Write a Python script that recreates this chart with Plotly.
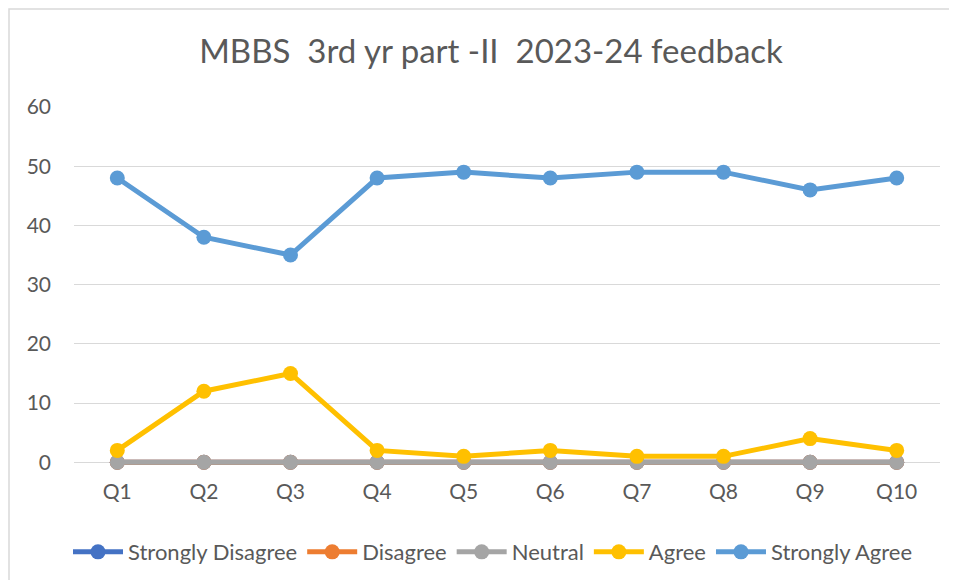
import plotly.graph_objects as go

categories = ["Q1", "Q2", "Q3", "Q4", "Q5", "Q6", "Q7", "Q8", "Q9", "Q10"]
strongly_disagree = [0, 0, 0, 0, 0, 0, 0, 0, 0, 0]
disagree = [0, 0, 0, 0, 0, 0, 0, 0, 0, 0]
neutral = [0, 0, 0, 0, 0, 0, 0, 0, 0, 0]
agree = [2, 12, 15, 2, 1, 2, 1, 1, 4, 2]
strongly_agree = [48, 38, 35, 48, 49, 48, 49, 49, 46, 48]
y_ticks = [0, 10, 20, 30, 40, 50, 60]

series = [
    ("Strongly Disagree", strongly_disagree, "#4472C4"),
    ("Disagree", disagree, "#ED7D31"),
    ("Neutral", neutral, "#A5A5A5"),
    ("Agree", agree, "#FFC000"),
    ("Strongly Agree", strongly_agree, "#5B9BD5"),
]

fig = go.Figure()
for name, vals, col in series:
    fig.add_trace(go.Scatter(
        x=categories, y=vals, name=name, mode="lines+markers",
        line=dict(color=col, width=5),
        marker=dict(color=col, size=15),
        cliponaxis=False,
    ))

# page body has an 8px margin; work in figure coordinates
OFF = 8
W, H = 957 - OFF, 580 - OFF
plot_left, plot_right = 74 - OFF, 940 - OFF
y60, y0 = 107 - OFF, 462 - OFF
ppu = (y0 - y60) / 60.0
ylow = -0.8
L = plot_left
R = W - plot_right
T = y60
ph = (y0 - y60) + (-ylow) * ppu
B = H - T - ph
pw = plot_right - plot_left

fig.update_layout(
    width=W, height=H,
    margin=dict(l=L, r=R, t=T, b=B, autoexpand=False),
    paper_bgcolor="white", plot_bgcolor="white",
    font=dict(family="Lato, Open Sans, sans-serif", color="#595959", size=20),
    title=dict(text="MBBS  3rd yr part -II  2023-24 feedback",
               x=(491 - OFF) / W, xanchor="center", y=1 - (51 - OFF) / H, yanchor="middle",
               font=dict(size=33, color="#595959")),
    showlegend=True,
    legend=dict(orientation="h", x=(493 - OFF - L) / pw, xanchor="center",
                y=(y0 - (547 - OFF)) / ph + 0, yanchor="middle",
                font=dict(size=22, color="#595959"), itemwidth=50,
                traceorder="normal"),
    xaxis=dict(type="category", range=[-0.5, 9.5], showgrid=False,
               showline=False, ticks="", zeroline=False, ticklabelstandoff=10,
               tickfont=dict(size=21, color="#595959")),
    yaxis=dict(range=[ylow, 60], tickvals=y_ticks, showgrid=True,
               gridcolor="#D9D9D9", gridwidth=1, zeroline=False,
               showline=False, ticks="", ticklabelstandoff=22,
               tickfont=dict(size=21, color="#595959")),
    shapes=[dict(type="rect", xref="paper", yref="paper",
                 x0=(1 - L) / pw, x1=(W + 5 - L) / pw,
                 y0=-(B + 5) / ph, y1=(ph + T - 1) / ph,
                 line=dict(color="#D9D9D9", width=1.5), layer="below")],
)

fig.write_html("out.html")
